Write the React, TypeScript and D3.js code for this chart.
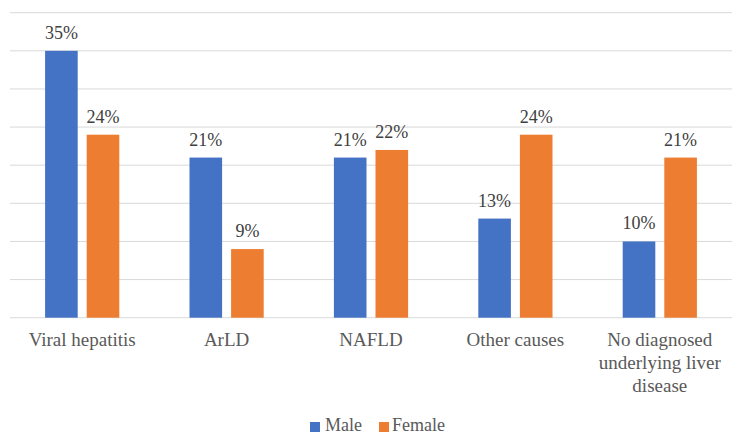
import * as d3 from "d3";
import * as React from "react";

const categories = ["Viral hepatitis", "ArLD", "NAFLD", "Other causes", "No diagnosed underlying liver disease"];
const categoryLines = [["Viral hepatitis"], ["ArLD"], ["NAFLD"], ["Other causes"], ["No diagnosed", "underlying liver", "disease"]];
const maleValues = [35, 21, 21, 13, 10];
const femaleValues = [24, 9, 22, 24, 21];
const seriesNames = ["Male", "Female"];
const yTicks = [0, 5, 10, 15, 20, 25, 30, 35, 40];

const colors = ["#4472C4", "#ED7D31"];
const textColor = "#595959";
const font = "Liberation Serif";

export default function App() {
  const width = 732;
  const height = 435;
  const left = 10;
  const right = 732;
  const top = 12.7;
  const bottom = 317.7;
  const barWidth = 32.6;
  const gap = 9;

  const x = d3.scaleBand<string>().domain(categories).range([left, right]).padding(0);
  const y = d3.scaleLinear().domain([0, 40]).range([bottom, top]);

  const series = [maleValues, femaleValues];

  return (
    <svg width={width} height={height} style={{ position: "absolute", left: 0, top: 0 }}>
      <rect width={width} height={height} fill="#fff" />
      {yTicks.map((t) => (
        <line key={"g" + t} x1={left} x2={right} y1={y(t)} y2={y(t)} stroke="#D9D9D9" strokeWidth={1} />
      ))}
      {categories.map((c, i) => {
        const cx = x(c)! + x.bandwidth() / 2;
        return (
          <g key={"c" + i}>
            {series.map((vals, s) => {
              const bx = s === 0 ? cx - gap / 2 - barWidth : cx + gap / 2;
              return (
                <g key={"b" + s}>
                  <rect x={bx} y={y(vals[i])} width={barWidth} height={y(0) - y(vals[i])} fill={colors[s]} />
                  <text x={bx + barWidth / 2} y={y(vals[i]) - 12} textAnchor="middle" style={{ fontFamily: font }} fontSize={18} fill="#404040">
                    {vals[i] + "%"}
                  </text>
                </g>
              );
            })}
            <text textAnchor="middle" style={{ fontFamily: font }} fontSize={19} fill={textColor}>
              {categoryLines[i].map((ln, k) => (
                <tspan key={k} x={cx} y={346 + k * 23}>{ln}</tspan>
              ))}
            </text>
          </g>
        );
      })}
      <g>
        <rect x={310} y={422} width={10} height={10} fill={colors[0]} />
        <text x={325} y={431} style={{ fontFamily: font }} fontSize={18} fill={textColor}>{seriesNames[0]}</text>
        <rect x={379} y={422} width={10} height={10} fill={colors[1]} />
        <text x={392} y={431} style={{ fontFamily: font }} fontSize={18} fill={textColor}>{seriesNames[1]}</text>
      </g>
    </svg>
  );
}
